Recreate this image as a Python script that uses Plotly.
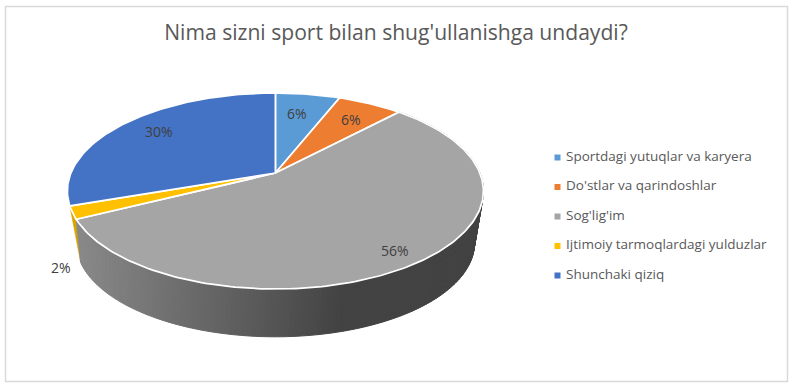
import math
import plotly.graph_objects as go

title_text = "Nima sizni sport bilan shug'ullanishga undaydi?"
categories = ["Sportdagi yutuqlar va karyera", "Do'stlar va qarindoshlar", "Sog'lig'im",
              "Ijtimoiy tarmoqlardagi yulduzlar", "Shunchaki qiziq"]
values = [6, 6, 55.6, 2.1, 30.3]
colors = ["#5B9BD5", "#ED7D31", "#A5A5A5", "#FFC000", "#4472C4"]
yellow_wall = "#D9A300"

W, H = 793, 388
CX, CY, A, B, P = 275.4, 173.0, 204.5, 94.7, 0.1837
MID_Y, DEPTH_SCALE, BOTTOM_MID_Y = 191.0, 0.957, 243.0


def top(theta):
    u, v = math.sin(theta), math.cos(theta)
    d = 1 + P * v
    return CX + A * u / d, CY - B * v / d


def bottom(theta):
    x, y = top(theta)
    return CX + (x - CX) * DEPTH_SCALE, BOTTOM_MID_Y + (y - MID_Y) * DEPTH_SCALE


def wall_shade(x):
    t = min(1.0, max(0.0, (x - 80) / (345 - 80)))
    g = round(136 - 70 * t)
    return f"rgb({g},{g},{g})"


total = sum(values)
bounds = [0.0]
for v in values:
    bounds.append(bounds[-1] + v / total * 2 * math.pi)


def wall_bottom(theta):
    # the wall's outer edge leans in towards the eye: shift the lower rim near the left end
    frac = (theta - bounds[2]) / (bounds[3] - bounds[2])
    return bottom(theta + math.radians(4.5) * frac ** 4)


fig = go.Figure()

# yellow wall sliver: runs from its rim arc down to the foot of the grey wall edge
ya, yb = bounds[3], bounds[4]
pts = [top(ya + (yb - ya) * i / 6) for i in range(7)] + [wall_bottom(ya)]
fig.add_trace(go.Scatter(x=[p[0] for p in pts], y=[p[1] for p in pts], mode="lines", fill="toself",
                         fillcolor=yellow_wall, line=dict(color=yellow_wall, width=0.5),
                         hoverinfo="skip", showlegend=False))

# curved wall of the large slice
step = math.radians(1)
n = int((bounds[3] - bounds[2]) / step)
for i in range(n):
    t0 = bounds[2] + i * step
    t1 = bounds[3] if i == n - 1 else t0 + step
    a0, a1, b1, b0 = top(t0), top(t1), wall_bottom(t1), wall_bottom(t0)
    c = wall_shade((a0[0] + a1[0]) / 2)
    fig.add_trace(go.Scatter(x=[a0[0], a1[0], b1[0], b0[0], a0[0]], y=[a0[1], a1[1], b1[1], b0[1], a0[1]],
                             mode="lines", fill="toself", fillcolor=c, line=dict(color=c, width=1),
                             hoverinfo="skip", showlegend=False))

# top faces
for i, (name, val, col) in enumerate(zip(categories, values, colors)):
    t0, t1 = bounds[i], bounds[i + 1]
    k = max(3, int((t1 - t0) / math.radians(1)))
    rim = [top(t0 + (t1 - t0) * j / k) for j in range(k + 1)]
    xs = [CX] + [p[0] for p in rim] + [CX]
    ys = [CY] + [p[1] for p in rim] + [CY]
    fig.add_trace(go.Scatter(x=xs, y=ys, mode="lines", fill="toself", fillcolor=col,
                             line=dict(color="white", width=1.75), name=name,
                             hoverinfo="name", showlegend=False))

# legend drawn as markers + text for exact spacing
legend_x, legend_text_x, legend_y0, legend_dy = 557.5, 566.0, 157.5, 29.5
legend_ys = [legend_y0 + legend_dy * i for i in range(len(categories))]
fig.add_trace(go.Scatter(x=[legend_x] * len(categories), y=legend_ys, mode="markers",
                         marker=dict(symbol="square", size=6, color=colors),
                         hoverinfo="skip", showlegend=False))
fig.add_trace(go.Scatter(x=[legend_text_x] * len(categories), y=legend_ys, mode="text", text=categories,
                         textposition="middle right",
                         textfont=dict(family="Open Sans", size=13.5, color="#595959"),
                         hoverinfo="skip", showlegend=False))

# frame
shapes = [dict(type="rect", x0=5.5, y0=6.5, x1=787.5, y1=381.5, line=dict(color="#D9D9D9", width=1.5),
               fillcolor="rgba(0,0,0,0)", layer="below")]

label_pos = [(297, 113), (351, 119), (395, 250), (61, 267), (159, 131)]
annotations = [dict(x=x, y=y, text=f"{round(v / total * 100)}%", showarrow=False, xanchor="center", yanchor="middle",
                    font=dict(family="Open Sans", size=14, color="#404040"))
               for (x, y), v in zip(label_pos, values)]

fig.update_layout(
    width=W, height=H, margin=dict(l=0, r=0, t=0, b=0),
    paper_bgcolor="white", plot_bgcolor="white", showlegend=False,
    title=dict(text=title_text, x=396 / W, xanchor="center", y=1 - 33 / H, yanchor="middle",
               font=dict(family="Open Sans", size=21.1, color="#595959")),
    xaxis=dict(range=[0, W], visible=False, fixedrange=True),
    yaxis=dict(range=[H, 0], visible=False, fixedrange=True),
    shapes=shapes, annotations=annotations,
)
fig.write_html("out.html", config={"displayModeBar": False},
               post_script="document.body.style.margin='0';")
